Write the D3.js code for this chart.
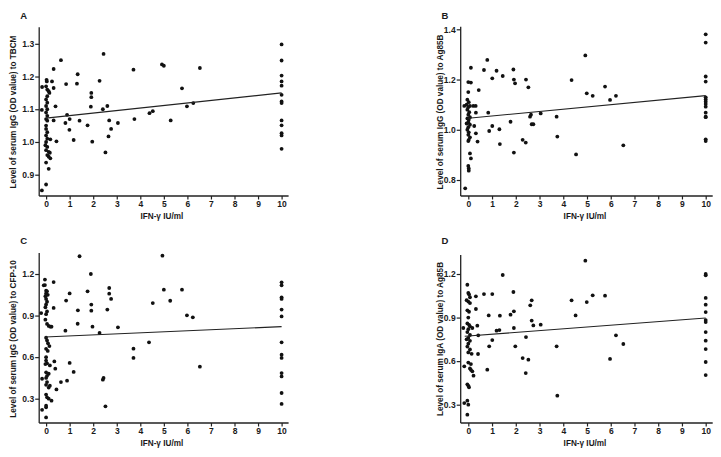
<!DOCTYPE html>
<html><head><meta charset="utf-8">
<script src="https://cdn.jsdelivr.net/npm/d3@7"></script>
<style>body{margin:0;background:#fff}svg{display:block}text{font-family:"Liberation Sans",Arial,sans-serif;font-weight:bold;fill:#1a1a1a}</style>
</head><body><svg id="c" width="721" height="457"></svg>
<script>
const xTicks = [0,1,2,3,4,5,6,7,8,9,10];
const xTitle = "IFN-γ IU/ml";
const panelLabels = ["A","B","C","D"];
const yTitles = ["Level of serum IgG (OD value) to TBCM","Level of serum IgG (OD value) to Ag85B","Level of serum IgG (OD value) to CFP-10","Level of serum IgA (OD value) to Ag85B"];
const yTicksA = [0.9,1.0,1.1,1.2,1.3];
const yTicksB = [0.8,1.0,1.2,1.4];
const yTicksC = [0.3,0.6,0.9,1.2];
const yTicksD = [0.3,0.6,0.9,1.2];
const yTickFmt = ["0.1f","0.1f","0.1f","0.1f"];

const pointsA = [[-0.18,0.852],[0,0.87],[0.11,0.918],[0,0.937],[-0.17,1.168],[-0.18,1.098],
[0.02,1.19],[0.03,1.185],[0,1.17],[0.05,1.16],[0.11,1.155],[0.14,1.15],[0.05,1.14],[0,1.13],[0.05,1.12],[0,1.11],[0.05,1.10],[0,1.09],[0.05,1.08],[0,1.07],[0.05,1.065],[0,1.05],[0,1.04],[0.05,1.03],[0,1.02],[0.05,1.01],[0,1.0],[-0.03,0.99],[0.05,0.985],[0,0.975],[0.11,0.97],[0.05,0.96],[0.11,0.955],[0.18,0.95],
[0.25,1.185],[0.32,1.165],[0.32,1.223],[0.4,1.109],[0.32,1.066],[0.18,1.008],[0.16,0.967],[0.44,1.002],[0.63,1.25],[0.85,1.177],[0.89,1.083],[0.82,1.058],[1.0,1.07],[0.99,1.037],[1.17,1.006],[1.34,1.207],[1.31,1.178],[1.42,1.065],[1.76,1.051],[1.92,1.15],[1.92,1.137],[1.9,1.108],[1.96,1.001],[2.27,1.187],[2.44,1.269],[2.41,1.1],[2.52,0.968],[2.6,1.11],[2.68,1.066],[2.65,1.017],[2.76,1.04],[3.05,1.058],[3.71,1.221],[3.75,1.07],[4.39,1.088],[4.53,1.094],[4.92,1.237],[5.0,1.233],[5.29,1.066],[5.77,1.164],[5.98,1.109],[6.25,1.119],[6.53,1.226],
[10,1.298],[10,1.249],[10,1.203],[10,1.185],[10,1.172],[10,1.144],[10,1.124],[10,1.119],[10,1.066],[10,1.051],[10,1.027],[10,1.02],[10,0.979]];

const pointsB = [[-0.13,0.767],[0,0.856],[0.02,0.846],[0.02,0.837],[0.11,0.886],[0.07,0.906],
[0,1.19],[0.11,1.188],[0,1.15],[-0.04,1.12],[0.02,1.11],[-0.07,1.10],[0.07,1.095],[0,1.09],[-0.04,1.08],[0.04,1.07],[0,1.06],[0.07,1.05],[-0.04,1.045],[0.02,1.04],[0,1.03],[-0.07,1.025],[0.07,1.02],[0,1.01],[-0.04,1.0],[0.02,0.99],[0,0.98],[0.07,0.97],[0.02,0.96],[0,0.955],
[-0.17,1.095],[0.11,1.247],[0.21,1.095],[0.31,1.095],[0.32,1.068],[0.25,1.015],[0.32,0.986],[0.39,0.953],[0.44,1.158],[0.66,1.238],[0.8,1.278],[0.84,1.068],[0.88,0.995],[1.01,1.205],[1.01,1.015],[1.19,1.235],[1.31,1.002],[1.33,0.943],[1.45,1.214],[1.78,1.032],[1.9,1.24],[1.92,1.2],[1.97,1.185],[1.92,0.909],[2.29,0.96],[2.42,0.949],[2.43,1.2],[2.53,1.169],[2.6,1.052],[2.64,1.06],[2.67,1.022],[2.74,1.022],[3.05,1.065],[3.72,1.052],[3.75,0.973],[4.35,1.198],[4.54,0.902],[4.93,1.296],[4.99,1.145],[5.24,1.135],[5.76,1.172],[5.97,1.119],[6.22,1.135],[6.53,0.938],
[10,1.38],[10,1.347],[10,1.212],[10,1.192],[10,1.129],[10,1.121],[10,1.112],[10,1.103],[10,1.092],[10,1.068],[10,1.052],[10,1.05],[10,0.962],[10,0.955]];

const pointsC = [[0,0.165],[-0.17,0.22],[0,0.238],[-0.17,0.444],[-0.21,0.918],[-0.1,1.118],
[-0.05,1.16],[-0.05,1.12],[0,1.08],[0.04,1.075],[0,1.06],[0.07,1.05],[-0.03,1.04],[0,1.02],[0.04,1.0],[0,0.98],[-0.03,0.96],[0.04,0.93],[0,0.91],[-0.03,0.87],[0.04,0.84],[0.11,0.825],[0,0.74],[0.04,0.72],[0.08,0.7],[0.14,0.68],[0,0.66],[0.07,0.645],[0,0.6],[0,0.575],[0.04,0.555],[-0.03,0.55],[0,0.49],[0.11,0.48],[0.04,0.465],[0,0.45],[0.04,0.42],[0,0.4],[0.11,0.38],[0,0.33],[0.04,0.31],[0.11,0.3],[0,0.25],
[0.18,0.82],[0.23,0.82],[0.16,0.54],[0.16,0.394],[0.23,0.286],[0.32,1.142],[0.32,0.955],[0.35,0.569],[0.39,0.517],[0.44,0.367],[0.63,0.42],[0.82,0.791],[0.85,1.008],[0.89,0.43],[1.0,1.06],[1.0,0.558],[1.17,0.493],[1.34,0.841],[1.35,0.938],[1.42,1.328],[1.76,1.075],[1.9,1.2],[1.92,0.979],[1.92,0.935],[1.97,0.82],[2.27,0.774],[2.41,0.437],[2.44,0.45],[2.52,0.245],[2.6,0.943],[2.68,1.099],[2.68,1.058],[2.76,1.02],[3.05,0.815],[3.71,0.661],[3.71,0.594],[4.37,0.707],[4.53,0.99],[4.94,1.332],[5.0,1.087],[5.27,1.007],[5.77,1.087],[5.98,0.902],[6.23,0.887],[6.53,0.531],
[10,1.14],[10,1.118],[10,1.032],[10,1.02],[10,0.943],[10,0.894],[10,0.707],[10,0.618],[10,0.594],[10,0.485],[10,0.461],[10,0.341],[10,0.262]];

const pointsD = [[-0.04,0.231],[-0.17,0.311],[0,0.3],[-0.04,0.328],[-0.17,0.564],[-0.21,0.828],
[-0.04,1.126],[0,1.07],[0.03,1.06],[0.07,1.04],[-0.07,1.02],[0,1.01],[0.07,1.0],[-0.04,0.95],[0.03,0.94],[0,0.9],[-0.04,0.86],[0.03,0.85],[0.07,0.84],[0,0.82],[-0.04,0.8],[0.07,0.78],[0,0.76],[-0.07,0.75],[0.07,0.74],[0,0.72],[-0.04,0.7],[0.07,0.68],[0,0.66],[0.14,0.65],[0,0.59],[0.11,0.58],[0.07,0.55],[0.11,0.54],[0.17,0.53],[-0.04,0.44],[0,0.43],[0.03,0.42],
[0.22,0.5],[0.17,0.828],[0.32,1.046],[0.32,0.959],[0.38,0.844],[0.42,0.778],[0.41,0.649],[0.66,1.062],[0.8,0.541],[0.86,0.915],[0.88,0.702],[1.01,1.062],[1.01,0.745],[1.19,0.81],[1.31,0.814],[1.33,0.913],[1.45,1.193],[1.78,0.92],[1.9,1.076],[1.92,0.943],[1.92,0.828],[1.98,0.702],[2.29,0.621],[2.42,0.518],[2.43,0.766],[2.53,0.61],[2.61,0.984],[2.67,1.019],[2.67,0.879],[2.74,0.846],[3.05,0.851],[3.72,0.702],[3.75,0.362],[4.35,1.019],[4.52,0.915],[4.93,1.292],[4.99,1.007],[5.24,1.053],[5.76,1.051],[5.97,0.615],[6.22,0.778],[6.53,0.718],
[10,1.2],[10,1.191],[10,1.035],[10,0.989],[10,0.938],[10,0.883],[10,0.869],[10,0.8],[10,0.741],[10,0.683],[10,0.594],[10,0.504]];

const fitA = [[0,1.073],[10,1.150]];
const fitB = [[0,1.046],[10,1.136]];
const fitC = [[-0.05,0.745],[10,0.820]];
const fitD = [[-0.15,0.771],[10,0.897]];

// layout (pixels)
const layout = [
  {ax:39.2, x0:46.1, x10:281.6, top:27.3, bottom:196, yHi:1.3, yHiPx:43.8, yLo:0.9, yLoPx:174.7, lx:23.8, ly:18.5, tx:13.3, ty:112, xtY:219},
  {ax:460.7, x0:468.3, x10:705.7, top:26.7, bottom:196, yHi:1.4, yHiPx:29.3, yLo:0.8, yLoPx:180, lx:445, ly:18.5, tx:439.8, ty:112, xtY:219},
  {ax:39.2, x0:46.1, x10:281.6, top:253, bottom:423, yHi:1.2, yHiPx:274, yLo:0.3, yLoPx:398.7, lx:23.8, ly:244.3, tx:13.3, ty:339, xtY:445.5},
  {ax:460.7, x0:468.3, x10:705.7, top:255, bottom:423, yHi:1.2, yHiPx:274, yLo:0.3, yLoPx:404.7, lx:445, ly:244.3, tx:439.8, ty:339, xtY:445.5}
];
const allPoints = [pointsA,pointsB,pointsC,pointsD];
const allFits = [fitA,fitB,fitC,fitD];
const allYTicks = [yTicksA,yTicksB,yTicksC,yTicksD];

const svg = d3.select("#c");
layout.forEach((L,i)=>{
  const x = d3.scaleLinear().domain([0,10]).range([L.x0,L.x10]);
  const y = d3.scaleLinear().domain([L.yLo,L.yHi]).range([L.yLoPx,L.yHiPx]);
  const right = x(10) + 7;
  const g = svg.append("g");
  const xa = g.append("g").attr("transform",`translate(0,${L.bottom})`)
    .call(d3.axisBottom(x).tickValues(xTicks).tickSize(3.5).tickSizeOuter(0).tickFormat(d3.format("d")));
  xa.select(".domain").remove();
  const ya = g.append("g").attr("transform",`translate(${L.ax},0)`)
    .call(d3.axisLeft(y).tickValues(allYTicks[i]).tickSize(4).tickSizeOuter(0).tickFormat(d3.format(yTickFmt[i])));
  ya.select(".domain").remove();
  g.append("line").attr("x1",L.ax).attr("x2",right).attr("y1",L.bottom).attr("y2",L.bottom).attr("stroke","#222").attr("stroke-width",1.3);
  g.append("line").attr("x1",L.ax).attr("x2",L.ax).attr("y1",L.top).attr("y2",L.bottom).attr("stroke","#222").attr("stroke-width",1.3);
  g.selectAll(".tick line").attr("stroke","#222").attr("stroke-width",1.2);
  g.selectAll(".tick text").attr("font-size",8.5).attr("font-weight","bold").attr("fill","#1a1a1a")
    .attr("font-family","'Liberation Sans',Arial,sans-serif");
  xa.selectAll(".tick text").attr("dy",null).attr("y",11);
  ya.selectAll(".tick text").attr("x",-5);
  g.selectAll("circle").data(allPoints[i]).join("circle")
    .attr("cx",d=>x(d[0])).attr("cy",d=>y(d[1])).attr("r",1.9).attr("fill","#111");
  g.append("path").datum(allFits[i]).attr("d",d3.line().x(d=>x(d[0])).y(d=>y(d[1])))
    .attr("stroke","#222").attr("stroke-width",1.1).attr("fill","none");
  g.append("text").attr("x",L.lx).attr("y",L.ly).attr("text-anchor","middle").attr("font-size",9.5).text(panelLabels[i]);
  g.append("text").attr("transform",`translate(${L.tx},${L.ty}) rotate(-90)`).attr("text-anchor","middle")
    .attr("dy","0.35em").attr("font-size",8.2).text(yTitles[i]);
  g.append("text").attr("x",(L.x0+L.x10)/2-2).attr("y",L.xtY).attr("text-anchor","middle").attr("font-size",8.2).text(xTitle);
});
</script></body></html>
